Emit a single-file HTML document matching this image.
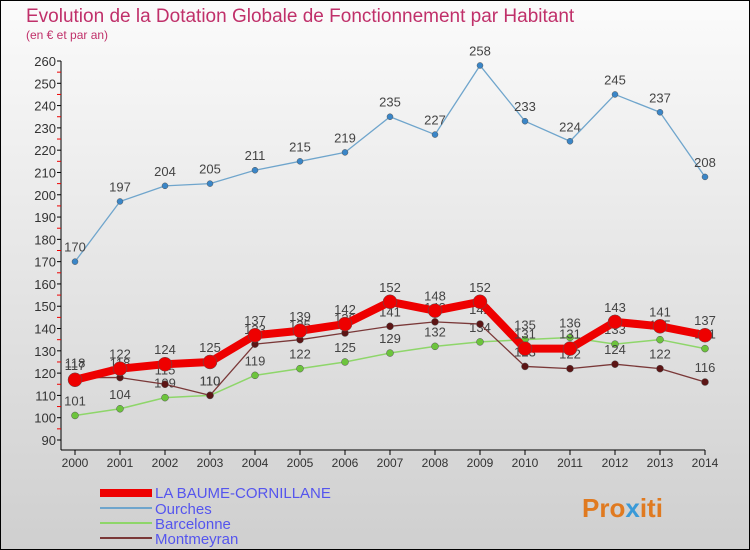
<!DOCTYPE html>
<html><head><meta charset="utf-8"><style>
body{margin:0;width:750px;height:550px;overflow:hidden}
svg{display:block;font-family:"Liberation Sans",sans-serif}
</style></head><body>
<svg id="c" width="750" height="550">
<defs><linearGradient id="bg" x1="0" y1="0" x2="0" y2="1"><stop offset="0" stop-color="#fbfbfb"/><stop offset="1" stop-color="#cfcfcf"/></linearGradient></defs>
<rect x="0.5" y="0.5" width="749" height="549" fill="url(#bg)" stroke="#000"/>
<text x="26" y="22" font-size="19" fill="#c0306a">Evolution de la Dotation Globale de Fonctionnement par Habitant</text>
<text x="26" y="39" font-size="12" fill="#c0306a">(en € et par an)</text>
<g id="axes"></g><g id="series"></g>
<g>
<rect x="100" y="489" width="52" height="8" fill="#ee0000"/>
<text x="155" y="498" font-size="15" fill="#5555ee">LA BAUME-CORNILLANE</text>
<rect x="100" y="507" width="52" height="2" fill="#6fa5cc"/>
<text x="155" y="514" font-size="15" fill="#5555ee">Ourches</text>
<rect x="100" y="522" width="52" height="2" fill="#8ed66a"/>
<text x="155" y="529" font-size="15" fill="#5555ee">Barcelonne</text>
<rect x="100" y="537" width="52" height="2" fill="#7a3838"/>
<text x="155" y="544" font-size="15" fill="#5555ee">Montmeyran</text>
</g>
<text x="582" y="517" font-size="26" font-weight="bold" fill="#e07a20">Pro<tspan fill="#3a9ad8">x</tspan>iti</text>
</svg>
<script>
const years=[2000,2001,2002,2003,2004,2005,2006,2007,2008,2009,2010,2011,2012,2013,2014];
const yTicks=[90,100,110,120,130,140,150,160,170,180,190,200,210,220,230,240,250,260];
const laBaume=[117,122,124,125,137,139,142,152,148,152,131,131,143,141,137];
const ourches=[170,197,204,205,211,215,219,235,227,258,233,224,245,237,208];
const barcelonne=[101,104,109,110,119,122,125,129,132,134,135,136,133,135,131];
const montmeyran=[118,118,115,110,133,135,138,141,143,142,123,122,124,122,116];
const NS='http://www.w3.org/2000/svg';
function xs(i){return 75+i*45;}
function ys(v){return 440-(v-90)*(379/170);}
function mk(t,a,p){const e=document.createElementNS(NS,t);for(const k in a)e.setAttribute(k,a[k]);p.appendChild(e);return e;}
const ax=document.getElementById('axes');
let l=mk('line',{x1:61,y1:ys(260),x2:61,y2:450,stroke:'#000'},ax);


l=mk('line',{x1:61,y1:450,x2:xs(14),y2:450,stroke:'#000'},ax);


yTicks.forEach((v,i)=>{
 mk('line',{x1:57,y1:ys(v),x2:61,y2:ys(v),stroke:'#000'},ax);
 if(i<yTicks.length-1)mk('line',{x1:57,y1:ys(v+5),x2:61,y2:ys(v+5),stroke:'#e00'},ax);
 const t=mk('text',{x:56,y:ys(v)+5,'font-size':13,'text-anchor':'end',fill:'#333'},ax);
 t.textContent=v;
 
 
});
years.forEach((y,i)=>{
 mk('line',{x1:xs(i),y1:450,x2:xs(i),y2:455,stroke:'#000'},ax);
 const t=mk('text',{x:xs(i),y:467,'font-size':12,'text-anchor':'middle',fill:'#333'},ax);
 t.textContent=y;
 
 
});
const sg=document.getElementById('series');
function draw(vals,name,col,w,r,dot){
 const g=mk('g',{},sg);
 
 
 mk('polyline',{points:vals.map((v,i)=>xs(i)+','+ys(v)).join(' '),fill:'none',stroke:col,'stroke-width':w,'stroke-linejoin':'round'},g);
 vals.forEach((v,i)=>{
  const c=mk('circle',{cx:xs(i),cy:ys(v),r:r,fill:dot,stroke:'#555','stroke-width':0.5},g);
  
  
  const t=mk('text',{x:xs(i),y:ys(v)-10,'font-size':13,'text-anchor':'middle',fill:'#444'},g);
  t.textContent=v;
  
  
 });
}
draw(ourches,'ourches','#6fa5cc',1.3,3,'#3a86c8');
draw(barcelonne,'barcelonne','#8ed66a',1.5,3.5,'#6cc43c');
draw(montmeyran,'montmeyran','#7a3838',1.3,3.5,'#5c1515');
draw(laBaume,'la-baume','#ee0000',8,7,'#ee0000');
</script>
</body></html>
